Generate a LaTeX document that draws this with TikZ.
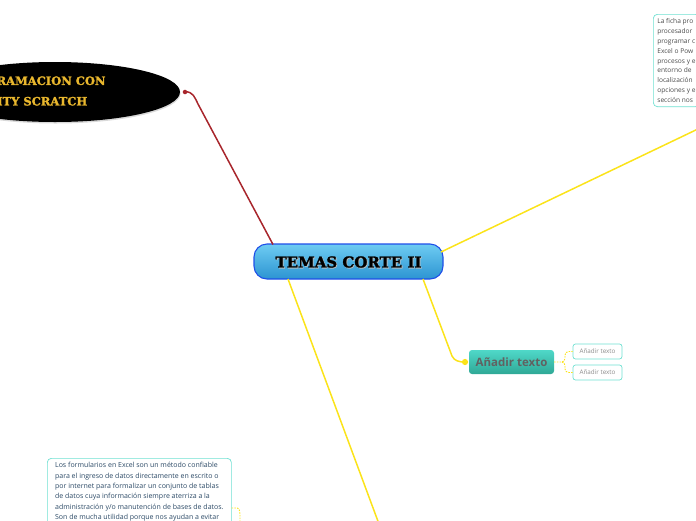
\documentclass[tikz,border=0pt]{standalone}
\usepackage{fontspec}
\setmainfont{Open Sans}
\newfontfamily\titlefont{DejaVu Serif}[BoldFeatures={FakeBold=1.6}]
\usetikzlibrary{shapes.geometric,shadows}

\definecolor{mapred}{HTML}{A8262C}
\definecolor{mapyellow}{HTML}{FBE31A}
\definecolor{mapteal}{HTML}{6FE0D2}
\definecolor{mapblue}{HTML}{1F4FE8}
\definecolor{mapgold}{HTML}{E9B72E}
\definecolor{notetext}{HTML}{2C4A66}
\definecolor{skytop}{HTML}{6ECCF2}
\definecolor{skybottom}{HTML}{2C94D2}
\definecolor{tealtop}{HTML}{4FD8C8}
\definecolor{tealbottom}{HTML}{2FA896}

\tikzset{
    mainbox/.style={draw=mapblue, line width=1.1pt, rounded corners=13pt,
        top color=skytop, bottom color=skybottom,
        minimum width=189pt, minimum height=35pt, inner sep=0pt},
    topicbox/.style={rounded corners=3pt, top color=tealtop,
        bottom color=tealbottom, minimum width=85pt, minimum height=24pt,
        inner sep=0pt, text=black!62, font=\bfseries\fontsize{11.5}{13}\selectfont},
    subbox/.style={draw=mapteal, line width=0.7pt, rounded corners=2.5pt, fill=white,
        minimum width=49pt, minimum height=15pt, inner sep=0pt, text=black!45,
        font=\fontsize{6.3}{7}\selectfont},
    notebox/.style={draw=mapteal, line width=0.7pt, rounded corners=4pt, fill=white,
        align=left, anchor=north west, inner sep=4pt, text=notetext,
        font=\fontsize{7}{10.4}\selectfont},
    yline/.style={draw=mapyellow, line width=1.5pt},
    ydots/.style={draw=mapyellow, line width=0.9pt, dash pattern=on 1.5pt off 1.2pt}
}

\begin{document}
\begin{tikzpicture}[x=1pt, y=-1pt]
    \useasboundingbox (0,0) rectangle (696,520);
    \clip (0,0) rectangle (696,520);

    % --- black ellipse on the left ---
    \node[ellipse, fill=black, minimum width=250pt, minimum height=60pt,
        drop shadow={shadow xshift=0.5pt, shadow yshift=-1.5pt, opacity=0.3}] (unity) at (55,92) {};
    \node[text=mapgold, align=center, font=\titlefont\bfseries\fontsize{11.5}{20.5}\selectfont]
        (unitytxt) at (32,91) {PROGRAMACION CON\\UNITY SCRATCH};
    \node[circle, fill=mapred, inner sep=1.6pt] (reddot) at (185,92) {};

    % --- central topic ---
    \node[mainbox] (temas) at (348.5,261.5) {};
    \node[font=\titlefont\bfseries\fontsize{15}{18}\selectfont, text=black!25] at (349.3,262.8) {TEMAS CORTE II};
    \node[font=\titlefont\bfseries\fontsize{15}{18}\selectfont] (temastxt) at (348.5,262) {TEMAS CORTE II};

    % free ends of the branches that leave the page
    \coordinate (redend) at (273,244.5);
    \coordinate (trstart) at (441,252);
    \coordinate (trend) at (700,128);
    \coordinate (btstart) at (288,279);
    \coordinate (btend) at (379,524);
    \coordinate (adstart) at (423,279);

    % --- red branch to the ellipse ---
    \draw[mapred, line width=1.5pt] (reddot.center) .. controls (193,91) and (195,98) .. (198,104) -- (redend);

    % --- note on the top right ---
    \node[notebox, text=black!70, font=\fontsize{6.6}{9.9}\selectfont] (fichanote) at (653,14) {La ficha pro\\procesador\\programar c\\Excel o Pow\\procesos y e\\entorno de\\localización\\opciones y e\\sección nos\hspace{40pt}};
    \draw[yline] (trstart) -- (trend);

    % --- Añadir texto branch ---
    \node[topicbox] (anadir) at (511.5,362) {Añadir texto};
    \node[circle, fill=mapyellow, inner sep=2.2pt] (ydot) at (465,362) {};
    \draw[yline] (adstart) -- (452,356) to[out=-65,in=180] (ydot.center);

    \node[subbox] (sub1) at (597.5,351.5) {Añadir texto};
    \node[subbox] (sub2) at (597.5,372.5) {Añadir texto};
    \draw[ydots] (anadir.east) -- (562,362) to[out=0,in=-90] (565,358) -- (565,355) to[out=90,in=180] (569,351.5) -- (sub1.west);
    \draw[ydots] (562,362) to[out=0,in=90] (565,366) -- (565,369) to[out=-90,in=180] (569,372.5) -- (sub2.west);

    % --- bottom branch with the note on forms ---
    \draw[yline] (btstart) -- (btend);
    \node[notebox, minimum width=184pt] (formnote) at (47,458) {Los formularios en Excel son un método confiable\\para el ingreso de datos directamente en escrito o\\por internet para formalizar un conjunto de tablas\\de datos cuya información siempre aterriza a la\\administración y/o manutención de bases de datos.\\Son de mucha utilidad porque nos ayudan a evitar\\errores};
    \coordinate (formend) at (240,524);
    \draw[ydots] (formnote.east |- 0,508) -- (237,508) to[out=0,in=100] (240,514) -- (formend);
\end{tikzpicture}
\end{document}
